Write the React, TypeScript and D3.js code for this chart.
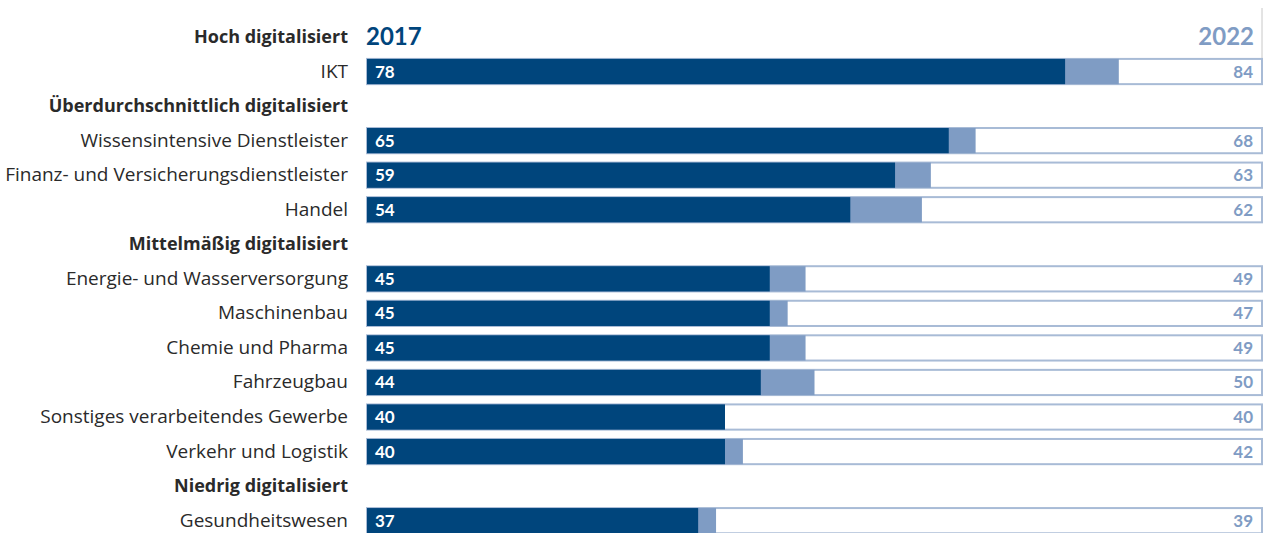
import * as d3 from "d3";
import React, { useEffect, useRef } from "react";

// rows: group headers have null values
const labels = [
  "Hoch digitalisiert",
  "IKT",
  "Überdurchschnittlich digitalisiert",
  "Wissensintensive Dienstleister",
  "Finanz- und Versicherungsdienstleister",
  "Handel",
  "Mittelmäßig digitalisiert",
  "Energie- und Wasserversorgung",
  "Maschinenbau",
  "Chemie und Pharma",
  "Fahrzeugbau",
  "Sonstiges verarbeitendes Gewerbe",
  "Verkehr und Logistik",
  "Niedrig digitalisiert",
  "Gesundheitswesen",
];
const values2017: (number | null)[] = [null, 78, null, 65, 59, 54, null, 45, 45, 45, 44, 40, 40, null, 37];
const values2022: (number | null)[] = [null, 84, null, 68, 63, 62, null, 49, 47, 49, 50, 40, 42, null, 39];
const years = ["2017", "2022"];

const W = 1267;
const H = 533;
const dark = "#00457c";
const mid = "#7f9cc4";
const outline = "#a8bbd6";

const App = () => {
  const ref = useRef<SVGSVGElement>(null);

  useEffect(() => {
    const svg = d3.select(ref.current);
    svg.selectAll("*").remove();

    const x = d3.scaleLinear().domain([0, 100]).range([367, 1262]);
    const y = d3.scaleBand<number>()
      .domain(d3.range(labels.length))
      .range([19.7, 19.7 + 34.55 * labels.length])
      .paddingInner(0.27)
      .paddingOuter(0.135);
    const bh = y.bandwidth();
    const font = "Lato, 'Open Sans', sans-serif";
    const labelFont = "'Open Sans', Lato, sans-serif";

    // thin vertical line at the right
    svg.append("line")
      .attr("x1", x(100)).attr("x2", x(100))
      .attr("y1", 8).attr("y2", y(1)!)
      .attr("stroke", "#c8c8c8").attr("stroke-width", 1);

    // year headers
    svg.append("text")
      .attr("x", x(0) - 1).attr("y", y(0)! + bh / 2 + 8)
      .attr("font-family", font).attr("font-weight", 700).attr("font-size", 24)
      .attr("fill", dark).text(years[0]);
    svg.append("text")
      .attr("x", x(100) - 8).attr("y", y(0)! + bh / 2 + 8)
      .attr("text-anchor", "end")
      .attr("font-family", font).attr("font-weight", 700).attr("font-size", 24)
      .attr("fill", mid).text(years[1]);

    const rows = svg.selectAll("g.row")
      .data(labels.map((l, i) => ({ l, i, a: values2017[i], b: values2022[i] })))
      .enter().append("g").attr("class", "row");

    rows.append("text")
      .attr("x", 348)
      .attr("y", (d) => y(d.i)! + bh / 2 + 6)
      .attr("text-anchor", "end")
      .attr("font-family", labelFont)
      .attr("font-size", (d) => (d.a === null ? 18 : 19))
      .attr("font-weight", (d) => (d.a === null ? 700 : 400))
      .attr("fill", "#2a2a2a")
      .text((d) => d.l);

    const bars = rows.filter((d) => d.a !== null);

    bars.append("rect")
      .attr("x", x(0)).attr("y", (d) => y(d.i)!)
      .attr("width", x(100) - x(0)).attr("height", bh)
      .attr("fill", "#fff").attr("stroke", outline).attr("stroke-width", 2);

    bars.append("rect")
      .attr("x", x(0)).attr("y", (d) => y(d.i)!)
      .attr("width", (d) => x(d.b as number) - x(0)).attr("height", bh)
      .attr("fill", mid);

    bars.append("rect")
      .attr("x", x(0)).attr("y", (d) => y(d.i)!)
      .attr("width", (d) => x(d.a as number) - x(0)).attr("height", bh)
      .attr("fill", dark);

    bars.append("text")
      .attr("x", x(0) + 8)
      .attr("y", (d) => y(d.i)! + bh / 2 + 6)
      .attr("font-family", font).attr("font-weight", 700).attr("font-size", 17)
      .attr("fill", "#fff")
      .text((d) => String(d.a));

    bars.append("text")
      .attr("x", x(100) - 9)
      .attr("y", (d) => y(d.i)! + bh / 2 + 6)
      .attr("text-anchor", "end")
      .attr("font-family", font).attr("font-weight", 700).attr("font-size", 17)
      .attr("fill", mid)
      .text((d) => String(d.b));
  }, []);

  return (
    <svg
      ref={ref}
      width={W}
      height={H}
      style={{ position: "absolute", left: 0, top: 0, background: "#fff" }}
    />
  );
};

export default App;
